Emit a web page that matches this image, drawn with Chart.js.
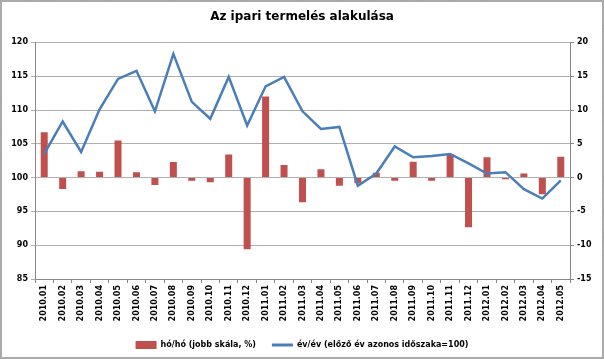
<!DOCTYPE html>
<html>
<head>
<meta charset="utf-8">
<script src="https://cdn.jsdelivr.net/npm/chart.js@4/dist/chart.umd.min.js"></script>
<style>
  html, body { margin: 0; padding: 0; background: #fff; }
  #wrap { width: 604px; height: 359px; }
</style>
</head>
<body>
<div id="wrap"><canvas id="chart" width="604" height="359"></canvas></div>
<script>
const months = [
  '2010.01', '2010.02', '2010.03', '2010.04', '2010.05', '2010.06', '2010.07', '2010.08', '2010.09', '2010.10', '2010.11', '2010.12',
  '2011.01', '2011.02', '2011.03', '2011.04', '2011.05', '2011.06', '2011.07', '2011.08', '2011.09', '2011.10', '2011.11', '2011.12',
  '2012.01', '2012.02', '2012.03', '2012.04', '2012.05'
];
// month over month change, % (right scale)
const momValues = [
  6.7, -1.7, 0.95, 0.85, 5.5, 0.8, -1.1, 2.3, -0.45, -0.7, 3.4, -10.6,
  12.0, 1.85, -3.65, 1.25, -1.2, -0.85, 0.7, -0.45, 2.35, -0.45, 3.5, -7.35,
  3.0, -0.25, 0.6, -2.45, 3.1
];
// year over year index, same period of previous year = 100 (left scale)
const yoyValues = [
  103.5, 108.3, 103.8, 110.1, 114.6, 115.8, 109.8, 118.3, 111.2, 108.7, 114.9, 107.7,
  113.5, 114.9, 109.8, 107.2, 107.5, 98.8, 100.6, 104.6, 103.0, 103.2, 103.5, 102.1,
  100.6, 100.8, 98.3, 96.9, 99.6
];
const titleText = 'Az ipari termelés alakulása';
const momLabel = 'hó/hó (jobb skála, %)';
const yoyLabel = 'év/év (előző év azonos időszaka=100)';

const barColor = '#c0504d';
const lineColor = '#4a7ebb';
const tickFont = { family: 'DejaVu Sans', size: 8, weight: 'bold' };

Chart.defaults.color = '#000';
Chart.defaults.font.family = 'DejaVu Sans';

// dotted frame round the whole picture
const frame = {
  id: 'frame',
  afterDraw(chart) {
    const ctx = chart.ctx;
    ctx.save();
    ctx.strokeStyle = '#555';
    ctx.lineWidth = 1;
    ctx.setLineDash([1, 1]);
    ctx.strokeRect(0.5, 0.5, chart.width - 1, chart.height - 1);
    ctx.strokeRect(1.5, 1.5, chart.width - 3, chart.height - 3);
    ctx.restore();
  }
};

new Chart(document.getElementById('chart'), {
  data: {
    labels: months,
    datasets: [
      {
        type: 'bar',
        label: momLabel,
        data: momValues,
        yAxisID: 'yRight',
        backgroundColor: barColor,
        borderWidth: 0,
        barPercentage: 0.38,
        categoryPercentage: 1,
        order: 1
      },
      {
        type: 'line',
        label: yoyLabel,
        data: yoyValues,
        yAxisID: 'yLeft',
        borderColor: lineColor,
        backgroundColor: lineColor,
        borderWidth: 2.5,
        pointRadius: 0,
        tension: 0,
        order: 0
      }
    ]
  },
  options: {
    responsive: false,
    animation: false,
    layout: { padding: { left: 0, right: 0, top: 0, bottom: 0 } },
    plugins: {
      title: {
        display: true,
        text: titleText,
        font: { family: 'DejaVu Sans', size: 12, weight: 'bold' },
        color: '#000',
        padding: { top: 10, bottom: 18 }
      },
      legend: {
        position: 'bottom',
        labels: {
          font: tickFont,
          usePointStyle: true,
          pointStyleWidth: 21,
          boxHeight: 8,
          padding: 16,
          generateLabels(chart) {
            return chart.data.datasets.map((ds, i) => ({
              text: ds.label,
              datasetIndex: i,
              fillStyle: ds.type === 'bar' ? barColor : lineColor,
              strokeStyle: ds.type === 'bar' ? barColor : lineColor,
              lineWidth: ds.type === 'bar' ? 0 : 3,
              pointStyle: ds.type === 'bar' ? 'rect' : 'line',
              fontColor: '#000'
            }));
          }
        }
      },
      tooltip: { enabled: false }
    },
    scales: {
      x: {
        type: 'category',
        offset: true,
        grid: { offset: true, drawOnChartArea: false, tickLength: 4, color: '#888' },
        border: { color: '#888' },
        ticks: { font: tickFont, minRotation: 90, maxRotation: 90, autoSkip: false, padding: 2 },
        afterFit(scale) { scale.height = 46; }
      },
      yLeft: {
        position: 'left',
        min: 85,
        max: 120,
        ticks: { stepSize: 5, font: tickFont, padding: 3 },
        grid: { color: '#b0b0b0', tickLength: 4 },
        border: { color: '#888' },
        afterFit(scale) { scale.width = 35; }
      },
      yRight: {
        position: 'right',
        min: -15,
        max: 20,
        ticks: { stepSize: 5, font: tickFont, padding: 3 },
        grid: { drawOnChartArea: false, tickLength: 4, color: '#888' },
        border: { color: '#888' },
        afterFit(scale) { scale.width = 34; }
      }
    }
  },
  plugins: [frame]
});
</script>
</body>
</html>
